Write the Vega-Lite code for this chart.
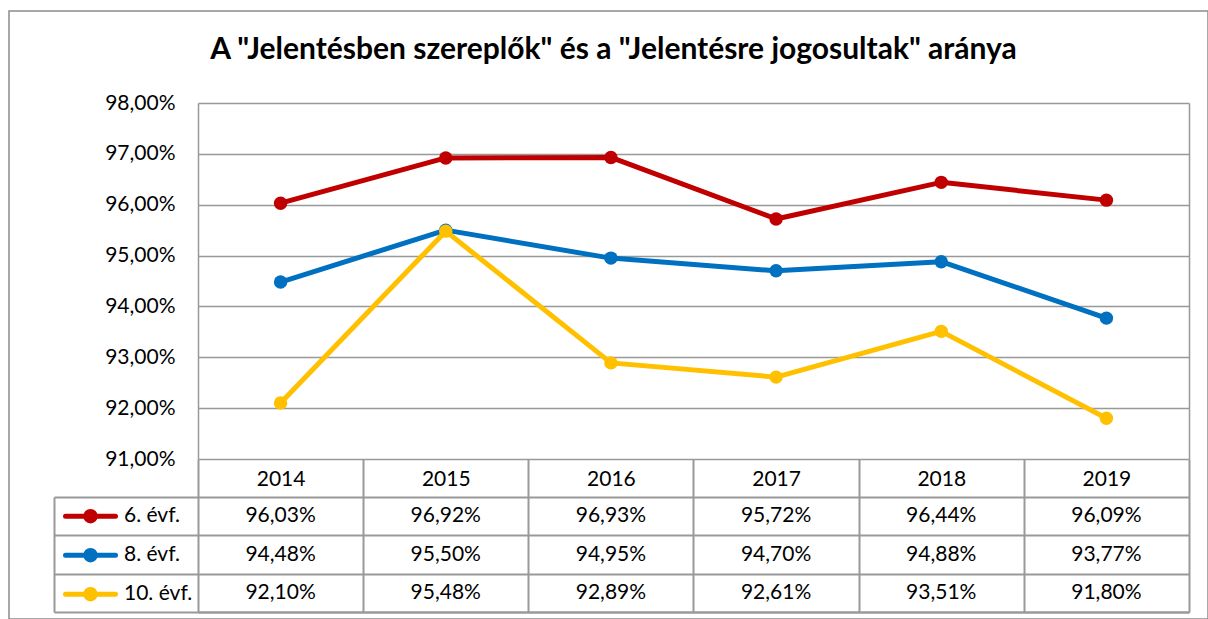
{
  "$schema": "https://vega.github.io/schema/vega-lite/v6.json",
  "width": 1199,
  "height": 608,
  "autosize": {"type": "none"},
  "padding": {"left": 9, "top": 11, "right": 0, "bottom": 0},
  "background": "white",
  "title": {
    "text": "A \"Jelentésben szereplők\" és a \"Jelentésre jogosultak\" aránya",
    "font": "Lato",
    "fontSize": 30,
    "fontWeight": "bold",
    "color": "black",
    "anchor": "middle",
    "frame": "group",
    "offset": -54,
    "dx": 5
  },
  "data": {
    "values": [
      {"year": "2014", "series": "6. évf.", "value": 0.9603},
      {"year": "2015", "series": "6. évf.", "value": 0.9692},
      {"year": "2016", "series": "6. évf.", "value": 0.9693},
      {"year": "2017", "series": "6. évf.", "value": 0.9572},
      {"year": "2018", "series": "6. évf.", "value": 0.9644},
      {"year": "2019", "series": "6. évf.", "value": 0.9609},
      {"year": "2014", "series": "8. évf.", "value": 0.9448},
      {"year": "2015", "series": "8. évf.", "value": 0.9550},
      {"year": "2016", "series": "8. évf.", "value": 0.9495},
      {"year": "2017", "series": "8. évf.", "value": 0.9470},
      {"year": "2018", "series": "8. évf.", "value": 0.9488},
      {"year": "2019", "series": "8. évf.", "value": 0.9377},
      {"year": "2014", "series": "10. évf.", "value": 0.9210},
      {"year": "2015", "series": "10. évf.", "value": 0.9548},
      {"year": "2016", "series": "10. évf.", "value": 0.9289},
      {"year": "2017", "series": "10. évf.", "value": 0.9261},
      {"year": "2018", "series": "10. évf.", "value": 0.9351},
      {"year": "2019", "series": "10. évf.", "value": 0.9180}
    ]
  },
  "resolve": {"scale": {"y": "independent"}, "axis": {"y": "independent"}},
  "layer": [
    {
      "mark": {"type": "text", "font": "Lato", "fontSize": 21, "color": "black"},
      "encoding": {
        "x": {
          "field": "year", "type": "nominal",
          "scale": {"type": "band", "domain": ["2014", "2015", "2016", "2017", "2018", "2019"], "range": [189, 1180], "paddingInner": 0, "paddingOuter": 0},
          "axis": {
            "orient": "bottom", "offset": -7, "title": null,
            "tickBand": "extent", "ticks": true, "tickSize": -153, "tickColor": "#999999", "tickWidth": 2,
            "domain": true, "domainColor": "#999999", "domainWidth": 2, "grid": false,
            "labelFont": "Lato", "labelFontSize": 21, "labelColor": "black", "labelAngle": 0,
            "labelBaseline": "middle", "labelPadding": 20
          }
        },
        "y": {
          "field": "series", "type": "nominal",
          "scale": {"type": "band", "domain": ["6. évf.", "8. évf.", "10. évf."], "range": [486, 601], "paddingInner": 0, "paddingOuter": 0},
          "axis": {
            "orient": "left", "offset": -45, "title": null,
            "tickBand": "extent", "ticks": true, "tickSize": -1135, "tickColor": "#999999", "tickWidth": 2,
            "domain": true, "domainColor": "#999999", "domainWidth": 2, "grid": false, "labels": false
          }
        },
        "text": {"field": "value", "type": "quantitative", "format": ".2%"}
      }
    },
    {
      "mark": {"type": "line", "strokeWidth": 5, "strokeCap": "round", "strokeJoin": "round"},
      "encoding": {
        "x": {"field": "year", "type": "nominal"},
        "y": {
          "field": "value", "type": "quantitative",
          "scale": {"domain": [0.91, 0.98], "range": [448, 92], "nice": false, "zero": false},
          "axis": {
            "orient": "left", "offset": -189, "title": null,
            "values": [0.91, 0.92, 0.93, 0.94, 0.95, 0.96, 0.97, 0.98], "format": ".2%",
            "ticks": false, "domain": true, "domainColor": "#999999", "domainWidth": 1.5,
            "grid": true, "gridColor": "#999999", "gridWidth": 1.5,
            "labelFont": "Lato", "labelFontSize": 21, "labelColor": "black", "labelPadding": 23
          }
        },
        "color": {
          "field": "series", "type": "nominal",
          "scale": {"domain": ["6. évf.", "8. évf.", "10. évf."], "range": ["#C00000", "#0070C0", "#FFC000"]},
          "legend": {
            "orient": "none", "legendX": 54, "legendY": 486, "title": null,
            "symbolType": "M-1,0L1,0M0.19,0A0.19,0.19,0,1,1,-0.19,0A0.19,0.19,0,1,1,0.19,0Z",
            "symbolSize": 2500, "symbolStrokeWidth": 5, "clipHeight": 38.33, "rowPadding": 0,
            "labelFont": "Lato", "labelFontSize": 21, "labelColor": "black", "labelOffset": 6, "padding": 0,
            "encode": {"symbols": {"update": {
              "fill": {"scale": "color", "field": "value"},
              "stroke": {"scale": "color", "field": "value"},
              "strokeCap": {"value": "round"},
              "opacity": {"value": 1}
            }}}
          }
        },
        "detail": {"field": "series"}
      }
    },
    {
      "mark": {"type": "point", "filled": true, "size": 180, "opacity": 1},
      "encoding": {
        "x": {"field": "year", "type": "nominal"},
        "y": {
          "field": "value", "type": "quantitative",
          "scale": {"domain": [0.91, 0.98], "range": [448, 92], "nice": false, "zero": false},
          "axis": {
            "orient": "right", "offset": -19, "title": null,
            "ticks": false, "labels": false, "grid": false,
            "domain": true, "domainColor": "#999999", "domainWidth": 1.5
          }
        },
        "color": {"field": "series", "type": "nominal"}
      }
    }
  ],
  "config": {
    "locale": {"number": {"decimal": ",", "thousands": " ", "grouping": [3], "currency": ["", " Ft"]}},
    "view": {"stroke": "#8c8c8c", "strokeWidth": 1.5},
    "font": "Lato"
  }
}
